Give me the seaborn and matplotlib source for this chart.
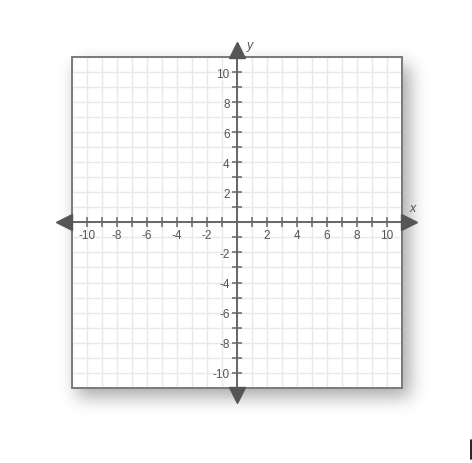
import numpy as np
import matplotlib.pyplot as plt
import matplotlib.patches as mpatches
import matplotlib.lines as mlines
import seaborn as sns

# axis ranges and ticks
x_limits = [-11, 11]
y_limits = [-11, 11]
x_ticks = [-10, -9, -8, -7, -6, -5, -4, -3, -2, -1, 1, 2, 3, 4, 5, 6, 7, 8, 9, 10]
y_ticks = [-10, -9, -8, -7, -6, -5, -4, -3, -2, -1, 1, 2, 3, 4, 5, 6, 7, 8, 9, 10]
x_tick_labels = ["-10", "", "-8", "", "-6", "", "-4", "", "-2", "", "", "2", "", "4", "", "6", "", "8", "", "10"]
y_tick_labels = ["-10", "", "-8", "", "-6", "", "-4", "", "-2", "", "", "2", "", "4", "", "6", "", "8", "", "10"]
grid_lines = list(range(-11, 12))

sns.set_theme(style="white")
plt.rcParams['font.family'] = ['Liberation Sans', 'DejaVu Sans']

W, H = 472, 464
fig = plt.figure(figsize=(W / 100, H / 100), dpi=100)
fig.patch.set_facecolor("white")

box_l, box_r, box_t, box_b = 71.7, 401.7, 58.3, 388.6
ax = fig.add_axes([box_l / W, 1 - box_b / H, (box_r - box_l) / W, (box_b - box_t) / H])
ax.set_xlim(x_limits)
ax.set_ylim(y_limits)


def blur(a, sigma):
    r = int(3 * sigma)
    k = np.exp(-0.5 * (np.arange(-r, r + 1) / sigma) ** 2)
    k /= k.sum()
    a = np.apply_along_axis(lambda v: np.convolve(v, k, mode="same"), 0, a)
    return np.apply_along_axis(lambda v: np.convolve(v, k, mode="same"), 1, a)


# soft drop shadow behind the box (image rows from top)
mask = np.zeros((H, W))
mask[int(box_t) + 8:int(box_b) + 10, int(box_l) + 6:int(box_r) + 9] = 1.0
mask = blur(mask, 9.0)
shadow = np.zeros((H, W, 4))
shadow[..., 3] = 0.34 * mask
fig.figimage(shadow[::-1], xo=0, yo=0, origin="lower", zorder=-1)

# grid
for g in grid_lines:
    ax.axvline(g, color="#e8e8e8", lw=1.0, zorder=0)
    ax.axhline(g, color="#e8e8e8", lw=1.0, zorder=0)

# box frame
ax.add_patch(mpatches.Rectangle((0, 0), 1, 1, transform=ax.transAxes, fill=False,
                                edgecolor="#7a7a7a", lw=1.4, zorder=3, clip_on=False))

# axes through the origin
for side in ["top", "right"]:
    ax.spines[side].set_visible(False)
ax.spines["left"].set_position(("data", 0))
ax.spines["bottom"].set_position(("data", 0))
for side in ["left", "bottom"]:
    ax.spines[side].set_color("#666666")
    ax.spines[side].set_linewidth(1.4)
    ax.spines[side].set_zorder(4)

ax.set_xticks(x_ticks)
ax.set_xticklabels(x_tick_labels)
ax.set_yticks(y_ticks)
ax.set_yticklabels(y_tick_labels)
ax.tick_params(axis="both", direction="inout", length=7, width=1.1, color="#666666",
               labelsize=8.5, labelcolor="#555555", pad=1.5, bottom=True, left=True)

# arrowheads
arrow_kw = dict(color="#555555", markersize=11, clip_on=False, zorder=5, linestyle="none")
ax.plot([x_limits[1] + 0.5], [0], marker=">", **arrow_kw)
ax.plot([x_limits[0] - 0.5], [0], marker="<", **arrow_kw)
ax.plot([0], [y_limits[1] + 0.5], marker="^", **arrow_kw)
ax.plot([0], [y_limits[0] - 0.5], marker="v", **arrow_kw)

ax.text(11.7, 0.95, "x", style="italic", color="#555555", fontsize=9,
        ha="center", va="center", clip_on=False)
ax.text(0.85, 11.8, "y", style="italic", color="#555555", fontsize=9,
        ha="center", va="center", clip_on=False)

# small cursor mark at bottom right
fig.lines.append(mlines.Line2D([470.5 / W, 470.5 / W], [1 - 441 / H, 1 - 460 / H],
                               transform=fig.transFigure, color="black", lw=1.2))

fig.savefig("out.png", dpi=100)
